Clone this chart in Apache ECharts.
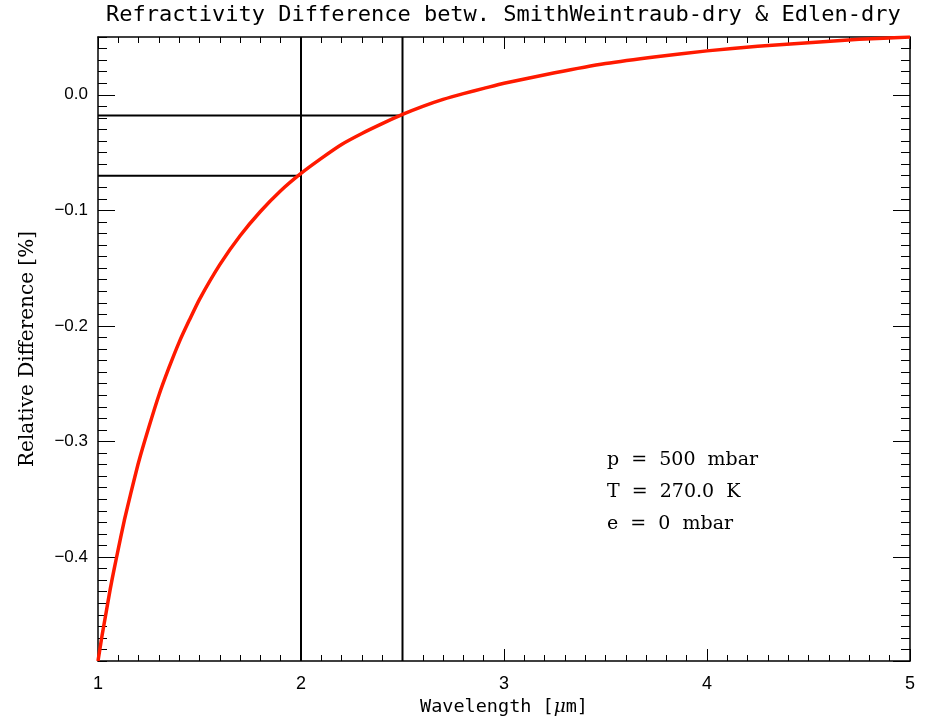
<!DOCTYPE html>
<html>
<head>
<meta charset="utf-8">
<script src="https://cdn.jsdelivr.net/npm/echarts@6/dist/echarts.min.js"></script>
<style>
  html, body { margin: 0; padding: 0; background: #fff; }
  #chart { width: 926px; height: 723px; }
</style>
</head>
<body>
<div id="chart"></div>
<script>
// wavelength [um] and relative difference [%]
const wavelength = [1.00, 1.02, 1.04, 1.06, 1.08, 1.10, 1.13, 1.16, 1.20, 1.25, 1.30, 1.35,
  1.40, 1.45, 1.50, 1.60, 1.70, 1.80, 1.90, 2.00, 2.10, 2.20, 2.30, 2.40, 2.50, 2.60, 2.70,
  2.80, 2.90, 3.00, 3.25, 3.50, 3.75, 4.00, 4.25, 4.50, 4.75, 5.00];
const relDiff = [-0.490, -0.468, -0.448, -0.428, -0.410, -0.393, -0.368, -0.346, -0.318,
  -0.288, -0.260, -0.236, -0.214, -0.195, -0.177, -0.147, -0.122, -0.101, -0.083, -0.068,
  -0.055, -0.043, -0.0335, -0.025, -0.017, -0.010, -0.004, 0.001, 0.0055, 0.010, 0.019,
  0.027, 0.033, 0.038, 0.042, 0.045, 0.048, 0.050];

// marked wavelengths and the curve value at each
const markWavelength = [2.0, 2.5];
const markDiff = [-0.070, -0.018];

const infoLines = ['p  =  500  mbar', 'T  =  270.0  K', 'e  =  0  mbar'];

const xMin = 1, xMax = 5;
const yMin = -0.49, yMax = 0.05;

let chart = echarts.init(document.getElementById('chart'));

const axisLine = { show: true, onZero: false, lineStyle: { color: '#000', width: 1.5 } };
const tickStyle = { color: '#000', width: 1 };

let curveData = wavelength.map((w, i) => [w, relDiff[i]]);

let refSeries = [];
markWavelength.forEach((w, i) => {
  refSeries.push({
    type: 'line', xAxisIndex: 0, yAxisIndex: 0, symbol: 'none', silent: true,
    lineStyle: { color: '#000', width: 2 },
    data: [[w, yMin], [w, yMax]]
  });
  refSeries.push({
    type: 'line', xAxisIndex: 0, yAxisIndex: 0, symbol: 'none', silent: true,
    lineStyle: { color: '#000', width: 2 },
    data: [[xMin, markDiff[i]], [w, markDiff[i]]]
  });
});

function yLabel(v) {
  if (Math.abs(v * 10 - Math.round(v * 10)) > 1e-6) return '';
  let s = Math.abs(v).toFixed(1);
  return v < -1e-9 ? '\u2212' + s : s;
}

let option = {
  animation: false,
  grid: { left: 98, right: 16, top: 37, bottom: 62 },
  graphic: [
    {
      type: 'text', left: 504 - 398, top: 4,
      style: {
        text: 'Refractivity Difference betw. SmithWeintraub-dry & Edlen-dry',
        font: '22px "DejaVu Sans Mono"', fill: '#000'
      }
    },
    {
      type: 'group', left: 607, top: 451,
      children: infoLines.map((t, i) => ({
        type: 'text', x: 0, y: i * 32,
        style: { text: t, font: '19px "DejaVu Serif"', fill: '#000' }
      }))
    }
  ],
  xAxis: [
    {
      type: 'value', position: 'bottom', min: xMin, max: xMax, interval: 1,
      axisLine: axisLine,
      axisTick: { inside: true, length: 12, lineStyle: tickStyle },
      minorTick: { show: true, splitNumber: 10, length: 6, lineStyle: tickStyle },
      splitLine: { show: false },
      axisLabel: { margin: 14, fontSize: 18, color: '#000', fontFamily: 'Liberation Sans' },
      name: 'Wavelength [{i|\u03bc}m]',
      nameLocation: 'middle', nameGap: 37,
      nameTextStyle: {
        fontSize: 18.5, color: '#000', fontFamily: 'DejaVu Sans Mono',
        rich: { i: { fontSize: 18.5, fontStyle: 'italic', fontFamily: 'DejaVu Serif' } }
      }
    },
    {
      type: 'value', position: 'top', min: xMin, max: xMax, interval: 1,
      axisLine: axisLine,
      axisTick: { inside: true, length: 12, lineStyle: tickStyle },
      minorTick: { show: true, splitNumber: 10, length: 6, lineStyle: tickStyle },
      splitLine: { show: false },
      axisLabel: { show: false }
    }
  ],
  yAxis: [
    {
      type: 'value', position: 'left', min: yMin, max: yMax, splitNumber: 5,
      axisLine: axisLine,
      axisTick: { inside: true, length: 17, lineStyle: tickStyle },
      splitLine: { show: false },
      axisLabel: {
        margin: 10, fontSize: 17, color: '#000', fontFamily: 'Liberation Sans',
        showMinLabel: false, showMaxLabel: false, formatter: yLabel
      },
      name: 'Relative Difference [%]',
      nameLocation: 'middle', nameGap: 60, nameRotate: 90,
      nameTextStyle: { fontSize: 20, color: '#000', fontFamily: 'DejaVu Serif' }
    },
    {
      type: 'value', position: 'left', min: yMin, max: yMax, interval: 0.01,
      axisLine: { show: false },
      axisTick: { inside: true, length: 9, lineStyle: tickStyle },
      splitLine: { show: false },
      axisLabel: { show: false }
    },
    {
      type: 'value', position: 'right', min: yMin, max: yMax, splitNumber: 5,
      axisLine: axisLine,
      axisTick: { inside: true, length: 17, lineStyle: tickStyle },
      splitLine: { show: false },
      axisLabel: { show: false }
    },
    {
      type: 'value', position: 'right', min: yMin, max: yMax, interval: 0.01,
      axisLine: { show: false },
      axisTick: { inside: true, length: 9, lineStyle: tickStyle },
      splitLine: { show: false },
      axisLabel: { show: false }
    }
  ],
  series: refSeries.concat([
    {
      type: 'line', xAxisIndex: 0, yAxisIndex: 0, symbol: 'none',
      smooth: 0.2,
      lineStyle: { color: '#ff1a00', width: 3.5, join: 'round' },
      data: curveData
    }
  ])
};

chart.setOption(option);
</script>
</body>
</html>
